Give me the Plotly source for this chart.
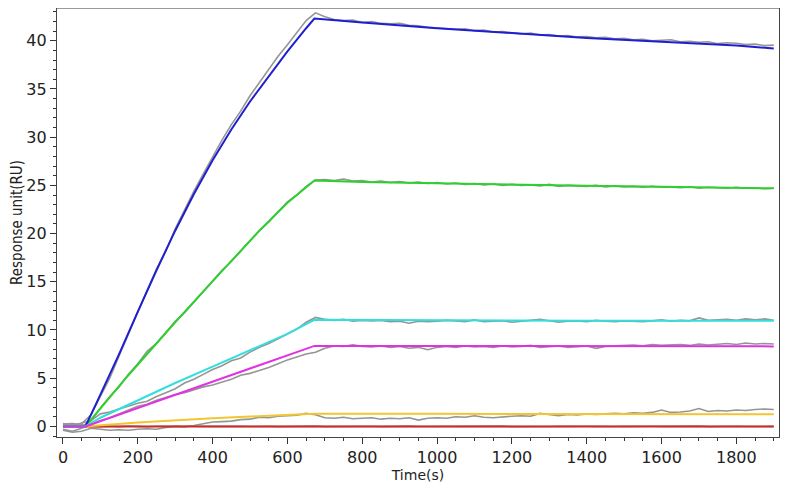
import plotly.graph_objects as go

# sampling grid of the measured (grey) sensorgrams, seconds
t_data = list(range(0, 1901, 25))

# measured responses (RU), one list per concentration
data_blue = [0.2, -0.1, 0.3, 1.2, 3.1, 5.0, 7.3, 9.6, 11.7, 14.1, 16.3, 18.2, 20.5, 22.5, 24.4, 26.2,
             28.0, 29.7, 31.3, 32.7, 34.3, 35.7, 37.0, 38.4, 39.6, 40.9, 42.1, 42.9, 42.5, 42.2, 42.1, 42.15,
             41.9, 42.0, 41.8, 41.75, 41.8, 41.6, 41.55, 41.4, 41.35, 41.3, 41.2, 41.25, 41.05, 41.1, 40.9, 40.95,
             40.85, 40.7, 40.8, 40.6, 40.65, 40.5, 40.55, 40.4, 40.45, 40.3, 40.35, 40.2, 40.25, 40.1, 40.15, 40.0,
             40.05, 40.1, 39.9, 39.95, 39.85, 39.9, 39.7, 39.8, 39.75, 39.6, 39.65, 39.5, 39.55]
data_green = [-0.1, 0.2, 0.0, 0.6, 1.9, 3.1, 4.1, 5.4, 6.5, 7.8, 8.6, 9.8, 10.9, 11.8, 12.9, 14.0,
              15.0, 16.2, 17.1, 18.2, 19.3, 20.3, 21.2, 22.3, 23.3, 24.0, 24.9, 25.55, 25.6, 25.5, 25.65, 25.45,
              25.5, 25.35, 25.45, 25.3, 25.4, 25.25, 25.35, 25.2, 25.3, 25.15, 25.25, 25.1, 25.2, 25.05, 25.15, 25.0,
              25.1, 25.0, 25.05, 24.95, 25.1, 24.9, 25.0, 24.95, 24.9, 25.0, 24.85, 24.95, 24.85, 24.9, 24.8, 24.9,
              24.8, 24.85, 24.75, 24.85, 24.7, 24.8, 24.75, 24.7, 24.8, 24.7, 24.75, 24.65, 24.7]
data_cyan = [0.3, 0.1, 0.35, 0.6, 1.3, 1.5, 1.8, 2.1, 2.4, 2.6, 3.1, 3.5, 3.9, 4.5, 4.9, 5.4,
             5.9, 6.3, 6.8, 7.1, 7.7, 8.2, 8.6, 9.1, 9.6, 10.1, 10.8, 11.3, 11.1, 11.0, 11.1, 10.9,
             11.0, 10.95, 11.0, 10.85, 10.9, 10.7, 10.9, 10.85, 10.9, 11.0, 10.95, 10.85, 11.05, 10.85, 10.9, 10.95,
             10.8, 10.9, 11.0, 11.1, 10.95, 10.8, 10.9, 10.95, 10.85, 11.0, 10.9, 10.85, 10.95, 10.9, 10.85, 10.95,
             11.05, 10.9, 11.0, 10.95, 11.25, 11.0, 11.05, 11.1, 11.0, 11.15, 11.05, 11.15, 11.0]
data_magenta = [-0.3, -0.5, -0.2, 0.2, 0.6, 0.9, 1.3, 1.7, 2.1, 2.3, 2.7, 3.0, 3.3, 3.5, 3.8, 4.1,
                4.3, 4.6, 4.9, 5.3, 5.5, 5.8, 6.1, 6.5, 6.9, 7.2, 7.5, 7.7, 8.1, 8.35, 8.3, 8.45,
                8.3, 8.25, 8.35, 8.2, 8.3, 8.1, 8.2, 7.95, 8.2, 8.3, 8.2, 8.35, 8.25, 8.3, 8.2, 8.35,
                8.25, 8.3, 8.4, 8.2, 8.25, 8.35, 8.2, 8.3, 8.35, 8.1, 8.3, 8.35, 8.4, 8.45, 8.35, 8.5,
                8.4, 8.45, 8.5, 8.4, 8.55, 8.45, 8.5, 8.6, 8.5, 8.65, 8.55, 8.6, 8.55]
data_yellow = [-0.4, -0.6, -0.5, -0.2, -0.3, -0.4, -0.35, -0.4, -0.3, -0.25, -0.3, -0.1, 0.0, -0.05, 0.1, 0.3,
               0.45, 0.5, 0.55, 0.7, 0.75, 0.95, 0.9, 1.05, 1.1, 1.15, 1.35, 1.2, 0.9, 0.85, 0.95, 0.8,
               0.85, 0.9, 0.75, 0.85, 0.8, 0.9, 0.65, 0.85, 0.9, 0.85, 1.0, 0.95, 1.1, 0.95, 0.9, 1.0,
               1.05, 1.1, 1.05, 1.35, 1.2, 1.1, 1.25, 1.2, 1.3, 1.25, 1.3, 1.35, 1.3, 1.4, 1.35, 1.45,
               1.7, 1.45, 1.5, 1.6, 1.85, 1.55, 1.65, 1.6, 1.7, 1.65, 1.75, 1.8, 1.75]
data_red = [0.25, 0.3, 0.2, 0.0, -0.05, 0.03, -0.02, 0.04, 0.0, -0.03, 0.02, 0.0, 0.03, -0.02, 0.01, 0.0,
            0.02, -0.03, 0.0, 0.02, -0.01, 0.03, 0.0, -0.02, 0.01, 0.02, 0.0, 0.03, -0.02, 0.0, 0.02, -0.01,
            0.0, 0.02, -0.02, 0.01, 0.0, 0.03, -0.01, 0.0, 0.02, -0.02, 0.01, 0.0, 0.02, -0.01, 0.0, 0.03,
            -0.02, 0.0, 0.01, 0.02, -0.01, 0.0, 0.02, -0.02, 0.01, 0.0, 0.03, -0.01, 0.0, 0.02, -0.02, 0.01,
            0.0, 0.02, -0.01, 0.0, 0.03, -0.02, 0.01, 0.0, 0.02, -0.01, 0.0, 0.02, 0.0]

# fitted curves (knots)
t_fit_blue = [0, 60, 100, 150, 200, 250, 300, 350, 400, 450, 500, 550, 600, 650, 672,
              800, 1000, 1200, 1400, 1600, 1800, 1900]
fit_blue = [0, 0, 3.3, 7.5, 11.9, 16.2, 20.3, 24.1, 27.6, 30.8, 33.7, 36.3, 38.9, 41.3, 42.3,
            41.9, 41.3, 40.8, 40.3, 39.9, 39.5, 39.2]
t_fit_green = [0, 60, 170, 300, 420, 525, 600, 672, 800, 1000, 1200, 1400, 1600, 1800, 1900]
fit_green = [0, 0, 5.1, 10.8, 15.9, 20.3, 23.2, 25.5, 25.35, 25.2, 25.05, 24.95, 24.85, 24.75, 24.7]
t_fit_cyan = [0, 60, 100, 200, 300, 400, 500, 600, 672, 1000, 1400, 1900]
fit_cyan = [0, 0, 0.9, 2.7, 4.5, 6.2, 7.9, 9.6, 11.05, 11.0, 10.97, 10.95]
t_fit_magenta = [0, 60, 672, 1900]
fit_magenta = [0, 0, 8.35, 8.3]
t_fit_yellow = [0, 60, 200, 400, 550, 672, 1000, 1900]
fit_yellow = [0, 0, 0.4, 0.85, 1.1, 1.3, 1.3, 1.25]
t_fit_red = [0, 1900]
fit_red = [0, 0]

GREY = '#959595'

fig = go.Figure()

for y in [data_red, data_yellow, data_magenta, data_cyan, data_green, data_blue]:
    fig.add_trace(go.Scatter(x=t_data, y=y, mode='lines',
                             line=dict(color=GREY, width=1.6), showlegend=False))

fits = [
    (t_fit_red, fit_red, '#cc2b2b'),
    (t_fit_yellow, fit_yellow, '#f2c531'),
    (t_fit_green, fit_green, '#2fcf2f'),
    (t_fit_blue, fit_blue, '#1f1fcf'),
    (t_fit_cyan, fit_cyan, '#33dede'),
    (t_fit_magenta, fit_magenta, '#e033e0'),
]
for tx, y, c in fits:
    fig.add_trace(go.Scatter(x=tx, y=y, mode='lines', line=dict(color=c, width=2),
                             showlegend=False))

tick_font = dict(family='DejaVu Sans', size=16, color='#222222')

# page body adds 8px on the top/left, so the figure is 8px smaller
fig.update_layout(
    width=780, height=478,
    margin=dict(l=49, r=9, t=0, b=49, autoexpand=False),
    paper_bgcolor='white', plot_bgcolor='white',
    xaxis=dict(range=[-16, 1914], dtick=200, tick0=0, ticks='outside', ticklen=6,
               tickcolor='#333333', tickfont=tick_font, showgrid=False, zeroline=False,
               showline=True, linecolor='#444444', linewidth=1.3, mirror=True, automargin=False,
               minor=dict(dtick=50, ticks='outside', ticklen=3, tickcolor='#333333'),
               title=dict(text='Time(s)', font=dict(family='DejaVu Sans', size=14, color='#222222'),
                          standoff=2)),
    yaxis=dict(range=[-1.1, 43.4], dtick=5, tick0=0, ticks='outside', ticklen=6,
               tickcolor='#333333', tickfont=tick_font, showgrid=False, zeroline=False,
               showline=True, linecolor='#444444', linewidth=1.3, mirror=True, automargin=False,
               minor=dict(dtick=1, ticks='outside', ticklen=3, tickcolor='#333333'),
               title=dict(text='Response unit(RU)',
                          font=dict(family='DejaVu Sans Condensed', size=15, color='#222222'),
                          standoff=4)),
)

# lighter, thicker top edge of the frame
fig.add_shape(type='line', xref='paper', yref='paper', x0=0, x1=1, y0=1, y1=1,
              line=dict(color='#9a9a9a', width=2.2))

fig.write_html("out.html")
